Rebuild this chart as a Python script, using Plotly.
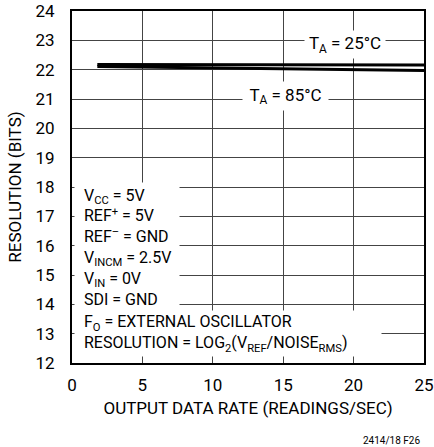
import plotly.graph_objects as go

# Data
rate = [1.8, 5, 10, 15, 20, 25]
res_25c = [22.18, 22.18, 22.17, 22.17, 22.16, 22.16]
res_85c = [22.11, 22.09, 22.06, 22.03, 22.00, 21.97]

x_ticks = [0, 5, 10, 15, 20, 25]
y_ticks = list(range(12, 25))

FONT = "Roboto, Liberation Sans, sans-serif"
FS = 17

fig = go.Figure()
fig.add_trace(go.Scatter(x=rate, y=res_25c, mode="lines",
                         line=dict(color="black", width=3), showlegend=False))
fig.add_trace(go.Scatter(x=rate, y=res_85c, mode="lines",
                         line=dict(color="black", width=3), showlegend=False))

ann = []
# Temperature labels
ann.append(dict(x=19.39, y=22.857, xref="x", yref="y", text="T<sub>A</sub> = 25°C",
                showarrow=False, bgcolor="white", width=80, height=27, borderpad=0,
                font=dict(family=FONT, size=FS, color="black")))
ann.append(dict(x=15.16, y=21.10, xref="x", yref="y", text="T<sub>A</sub> = 85°C",
                showarrow=False, bgcolor="white", width=85, height=28, borderpad=0,
                font=dict(family=FONT, size=FS, color="black")))

cond1 = "<br>".join([
    "&nbsp;&nbsp;V<sub>CC</sub> = 5V",
    "&nbsp;&nbsp;REF<sup>+</sup> = 5V",
    "&nbsp;&nbsp;REF<sup>–</sup> = GND",
    "&nbsp;&nbsp;V<sub>INCM</sub> = 2.5V",
    "&nbsp;&nbsp;V<sub>IN</sub> = 0V",
    "&nbsp;&nbsp;SDI = GND",
])
cond2 = "<br>".join([
    "&nbsp;&nbsp;F<sub>O</sub> = EXTERNAL OSCILLATOR",
    "&nbsp;&nbsp;RESOLUTION = LOG<sub>2</sub>(V<sub>REF</sub>/NOISE<sub>RMS</sub>)",
])
ann.append(dict(x=0, y=0.514, xref="paper", yref="paper", xanchor="left", yanchor="top",
                xshift=2, text=cond1, align="left", showarrow=False, bgcolor="white",
                width=102, height=126, borderpad=1,
                font=dict(family=FONT, size=FS - 1, color="black")))
ann.append(dict(x=0, y=0.1506, xref="paper", yref="paper", xanchor="left", yanchor="top",
                xshift=2, text=cond2, align="left", showarrow=False, bgcolor="white",
                width=304, height=43, borderpad=1,
                font=dict(family=FONT, size=FS - 1, color="black")))
# Footer
ann.append(dict(x=1, y=0, xref="paper", yref="paper", xanchor="right", yanchor="middle",
                xshift=-2, yshift=-77, text="2414/18 F26", showarrow=False,
                font=dict(family=FONT, size=10, color="black")))

fig.update_layout(
    width=434, height=447,
    margin=dict(l=72, r=10, t=11, b=84, autoexpand=False),
    paper_bgcolor="white", plot_bgcolor="white",
    font=dict(family=FONT, size=FS, color="black"),
    annotations=ann,
    showlegend=False,
)
fig.update_xaxes(range=[0, 25], tickvals=x_ticks, ticktext=[str(v) for v in x_ticks],
                 showgrid=True, gridcolor="#444444", gridwidth=1,
                 showline=True, linecolor="black", linewidth=2, mirror=True,
                 ticks="", ticklabelstandoff=6, zeroline=False, automargin=False,
                 title=dict(text="OUTPUT DATA RATE (READINGS/SEC)", standoff=8,
                            font=dict(size=FS)),
                 tickfont=dict(size=FS))
fig.update_yaxes(range=[12, 24], tickvals=y_ticks, ticktext=[str(v) for v in y_ticks],
                 showgrid=True, gridcolor="#444444", gridwidth=1,
                 showline=True, linecolor="black", linewidth=2, mirror=True,
                 ticks="", ticklabelstandoff=12, zeroline=False,
                 automargin=False,
                 title=dict(text="RESOLUTION (BITS)", standoff=10, font=dict(size=FS)),
                 tickfont=dict(size=FS))

fig.write_html("out.html", config={"displayModeBar": False},
               post_script="document.body.style.margin='0';document.body.style.padding='0';")
